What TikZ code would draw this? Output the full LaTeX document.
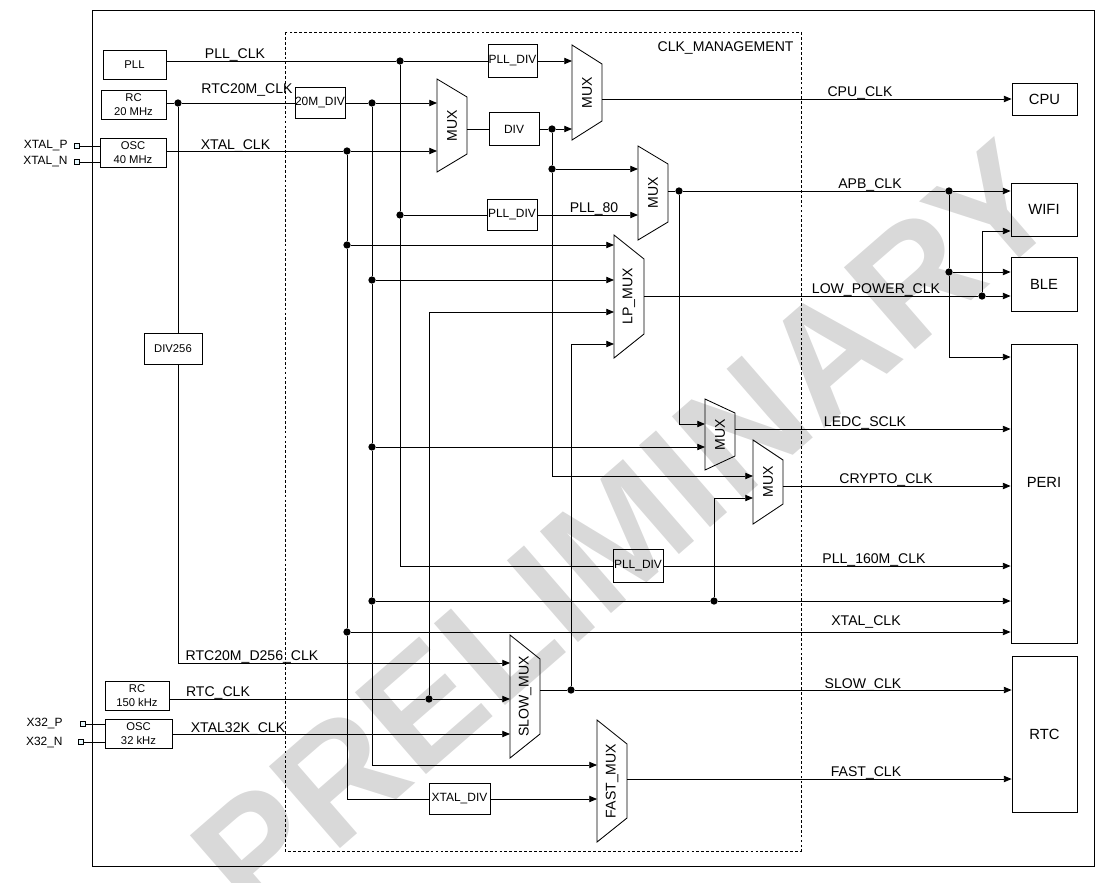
\documentclass[tikz,border=0pt]{standalone}
\usepackage{fontspec}
\setmainfont{Liberation Sans}
\usetikzlibrary{arrows.meta}

\newcommand{\px}{0.025cm}
% mux: name, left x, top y, bottom y, inset, output y, label
\newcommand{\mux}[7]{%
  \draw ({#2},{#3}) -- ({#2+30},{#3+#5}) -- ({#2+30},{#4-#5}) -- ({#2},{#4}) -- cycle;
  \node[muxlbl] (#1) at ({#2+15},{(#3+#4)/2}) {#7};
  \coordinate (#1-in) at ({#2},{(#3+#4)/2});
  \coordinate (#1-out) at ({#2+30},{#6});
}

\begin{document}
\begin{tikzpicture}[x=\px, y=-\px, line width=0.6pt,
  blk/.style={draw, inner sep=0pt, align=center, font=\fontsize{8}{10}\selectfont},
  divbox/.style={blk, font=\fontsize{8.5}{10}\selectfont},
  sink/.style={draw, inner sep=0pt, font=\fontsize{10.5}{12}\selectfont},
  sig/.style={anchor=base, inner sep=0pt, font=\fontsize{10}{12}\selectfont},
  muxlbl/.style={rotate=90, inner sep=0pt, font=\fontsize{10}{12}\selectfont},
  arr/.style={-{Triangle[length=5.5pt,width=4.5pt]}},
  dot/.style={circle, fill, inner sep=0pt, minimum size=5.2pt},
  padsq/.style={draw, fill=cyan!10, inner sep=0pt, minimum size=3.2pt, line width=0.5pt},
  pinlbl/.style={anchor=east, inner sep=0pt, font=\fontsize{8.5}{10}\selectfont},
  wm/.style={text=black!15, font=\fontsize{112}{112}\selectfont\bfseries, rotate=41}]

  \useasboundingbox (0,0) rectangle (1108,882);

  % Watermark
  \begin{scope}
    \clip (0,0) rectangle (1108,882);
    \node[wm] (wmark) at (625,530) {PRELIMINARY};
  \end{scope}

  % Frames
  \draw (92,10) rectangle (1094,866);
  \draw[dash pattern=on 2pt off 1.5pt, line width=0.5pt] (285,32) rectangle (801,851);
  \node[sig, anchor=base east] (lclkm) at (794,51) {CLK\_MANAGEMENT};

  % Clock sources
  \node[blk, minimum width=63*\px, minimum height=29*\px] (pll) at (134.5,64.5) {PLL};
  \node[blk, minimum width=65*\px, minimum height=29*\px] (rc20) at (133.5,104.5) {RC\\20 MHz};
  \node[blk, minimum width=66*\px, minimum height=29*\px] (osc40) at (133,152.5) {OSC\\40 MHz};
  \node[blk, minimum width=58*\px, minimum height=31*\px] (div256) at (173,348.5) {DIV256};
  \node[blk, minimum width=64*\px, minimum height=29*\px] (rc150) at (137,695.5) {RC\\150 kHz};
  \node[blk, minimum width=67*\px, minimum height=29*\px] (osc32) at (138.5,734) {OSC\\32 kHz};

  % Pads
  \node[padsq] (xtalp) at (77,146) {};
  \node[padsq] (xtaln) at (77,162) {};
  \node[padsq] (x32p) at (83,724) {};
  \node[padsq] (x32n) at (81,742) {};
  \node[pinlbl] (lxtalp) at (68,146) {XTAL\_P};
  \node[pinlbl] (lxtaln) at (68,162) {XTAL\_N};
  \node[pinlbl] (lx32p) at (63,724) {X32\_P};
  \node[pinlbl] (lx32n) at (63,742) {X32\_N};

  % Dividers
  \node[divbox, minimum width=49*\px, minimum height=33*\px] (plldiva) at (512.5,61) {PLL\_DIV};
  \node[divbox, minimum width=50*\px, minimum height=31*\px] (div20) at (320,103) {20M\_DIV};
  \node[divbox, minimum width=50*\px, minimum height=33*\px] (divc) at (514,129) {DIV};
  \node[divbox, minimum width=50*\px, minimum height=31*\px] (plldivb) at (512,215) {PLL\_DIV};
  \node[divbox, minimum width=50*\px, minimum height=33*\px] (plldivc) at (638,566) {PLL\_DIV};
  \node[divbox, minimum width=61*\px, minimum height=31*\px] (xtaldiv) at (459.5,799) {XTAL\_DIV};

  % Consumers
  \node[sink, minimum width=65*\px, minimum height=32*\px] (cpu) at (1044.5,99) {CPU};
  \node[sink, minimum width=66*\px, minimum height=53*\px] (wifi) at (1044,209.5) {WIFI};
  \node[sink, minimum width=66*\px, minimum height=54*\px] (ble) at (1044,284) {BLE};
  \node[sink, minimum width=66*\px, minimum height=299*\px, text depth=22*\px] (peri) at (1044,493.5) {PERI};
  \node[sink, minimum width=65*\px, minimum height=156*\px] (rtc) at (1044.5,734) {RTC};

  % Multiplexers
  \mux{mcpu}{572}{45}{140}{19}{99}{MUX}
  \mux{mpre}{437}{79}{172}{18}{129}{MUX}
  \mux{mapb}{638}{146}{240}{18}{191}{MUX}
  \mux{mlp}{614}{235}{358}{24}{296}{LP\_MUX}
  \mux{mled}{705}{399}{470}{14}{429}{MUX}
  \mux{mcry}{753}{440}{524}{20}{486}{MUX}
  \mux{mslow}{510}{635}{758}{24}{690}{SLOW\_MUX}
  \mux{mfast}{597}{720}{842}{24}{779}{FAST\_MUX}

  % Junctions
  \node[dot] (jpll) at (400,61) {};
  \node[dot] (jrc) at (178,103) {};
  \node[dot] (j20) at (372,103) {};
  \node[dot] (jxtal) at (347,151) {};
  \node[dot] (jdiv) at (552,129) {};
  \node[dot] (jdivb) at (552,169) {};
  \node[dot] (jp80) at (400,215) {};
  \node[dot] (japb) at (679,191) {};
  \node[dot] (japbw) at (949,191) {};
  \node[dot] (japbb) at (949,272) {};
  \node[dot] (jlpw) at (982,296) {};
  \node[dot] (jxlp) at (347,245) {};
  \node[dot] (j20lp) at (372,280) {};
  \node[dot] (j20led) at (372,447) {};
  \node[dot] (j20p) at (372,601) {};
  \node[dot] (jcry) at (714,601) {};
  \node[dot] (jxp) at (347,632) {};
  \node[dot] (jrtc) at (429,699) {};
  \node[dot] (jslow) at (571,690) {};

  % Bends
  \coordinate (bcry) at (552,476);
  \coordinate (bcry2) at (714,498);
  \coordinate (bled) at (679,424);
  \coordinate (bperi) at (949,357);
  \coordinate (bwifi) at (982,231);
  \coordinate (blp3) at (429,312);
  \coordinate (blp4) at (571,344);
  \coordinate (b160) at (400,566);
  \coordinate (bd256) at (178,663);
  \coordinate (bfast) at (372,765);
  \coordinate (bxdiv) at (347,799);

  % Pad wires
  \draw (xtalp) -- (osc40.west |- xtalp);
  \draw (xtaln) -- (osc40.west |- xtaln);
  \draw (x32p) -- (osc32.west |- x32p);
  \draw (x32n) -- (osc32.west |- x32n);

  % CPU path
  \draw (pll.east |- jpll) -- (jpll) -- (plldiva);
  \draw[arr] (plldiva) -- (mcpu-in |- plldiva);
  \draw (rc20.east |- jrc) -- (jrc) -- (div20);
  \draw[arr] (div20) -- (j20) -- (mpre-in |- j20);
  \draw[arr] (osc40.east |- jxtal) -- (jxtal) -- (mpre-in |- jxtal);
  \draw (mpre-out) -- (divc);
  \draw[arr] (divc) -- (jdiv) -- (mcpu-in |- jdiv);
  \draw[arr] (mcpu-out) -- (cpu);

  % APB path
  \draw[arr] (jdiv) -- (jdivb) -- (mapb-in |- jdivb);
  \draw[arr] (jdivb) -- (bcry) -- (mcry-in |- bcry);
  \draw (jpll) -- (jp80) -- (plldivb);
  \draw[arr] (plldivb) -- (mapb-in |- plldivb);
  \draw (jp80) -- (b160) -- (plldivc);
  \draw[arr] (plldivc) -- (peri.west |- plldivc);
  \draw (mapb-out) -- (japb);
  \draw[arr] (japb) -- (japbw) -- (wifi.west |- japbw);
  \draw[arr] (japbw) -- (japbb) -- (ble.west |- japbb);
  \draw[arr] (japbb) -- (bperi) -- (peri.west |- bperi);
  \draw[arr] (japb) -- (bled) -- (mled-in |- bled);

  % XTAL and 20M branches
  \draw[arr] (jxtal) -- (jxlp) -- (mlp-in |- jxlp);
  \draw[arr] (jxlp) -- (jxp) -- (peri.west |- jxp);
  \draw (jxp) -- (bxdiv) -- (xtaldiv);
  \draw[arr] (xtaldiv) -- (mfast-in |- xtaldiv);
  \draw[arr] (j20) -- (j20lp) -- (mlp-in |- j20lp);
  \draw[arr] (j20lp) -- (j20led) -- (mled-in |- j20led);
  \draw (j20led) -- (j20p);
  \draw[arr] (j20p) -- (jcry) -- (peri.west |- jcry);
  \draw[arr] (jcry) -- (bcry2) -- (mcry-in |- bcry2);
  \draw[arr] (j20p) -- (bfast) -- (mfast-in |- bfast);

  % Slow clocks
  \draw (jrc) -- (jrc |- div256.north);
  \draw[arr] (jrc |- div256.south) -- (bd256) -- (mslow-in |- bd256);
  \draw[arr] (rc150.east |- jrtc) -- (jrtc) -- (mslow-in |- jrtc);
  \draw[arr] (jrtc) -- (blp3) -- (mlp-in |- blp3);
  \draw[arr] (osc32) -- (mslow-in |- osc32);
  \draw[arr] (mslow-out) -- (jslow) -- (rtc.west |- jslow);
  \draw[arr] (jslow) -- (blp4) -- (mlp-in |- blp4);

  % Outputs
  \draw (mlp-out) -- (jlpw);
  \draw[arr] (jlpw) -- (ble.west |- jlpw);
  \draw[arr] (jlpw) -- (bwifi) -- (wifi.west |- bwifi);
  \draw[arr] (mled-out) -- (peri.west |- mled-out);
  \draw[arr] (mcry-out) -- (peri.west |- mcry-out);
  \draw[arr] (mfast-out) -- (rtc.west |- mfast-out);

  % Signal names
  \node[sig] (lpllclk) at (235,58) {PLL\_CLK};
  \node[sig] (lrtc20) at (247,93) {RTC20M\_CLK};
  \node[sig] (lxtal) at (235.5,149) {XTAL\_CLK};
  \node[sig] (lpll80) at (594,212) {PLL\_80};
  \node[sig] (lcpu) at (860,96) {CPU\_CLK};
  \node[sig] (lapb) at (870,188) {APB\_CLK};
  \node[sig] (llp) at (876,293) {LOW\_POWER\_CLK};
  \node[sig] (lledc) at (865,426) {LEDC\_SCLK};
  \node[sig] (lcry) at (886,483) {CRYPTO\_CLK};
  \node[sig] (l160) at (874,563) {PLL\_160M\_CLK};
  \node[sig] (lxtalp2) at (866,625) {XTAL\_CLK};
  \node[sig] (ld256) at (252,660) {RTC20M\_D256\_CLK};
  \node[sig] (lrtc) at (218,696) {RTC\_CLK};
  \node[sig] (lx32) at (238,732) {XTAL32K\_CLK};
  \node[sig] (lslow) at (863,688) {SLOW\_CLK};
  \node[sig] (lfast) at (866,776) {FAST\_CLK};
\end{tikzpicture}
\end{document}
